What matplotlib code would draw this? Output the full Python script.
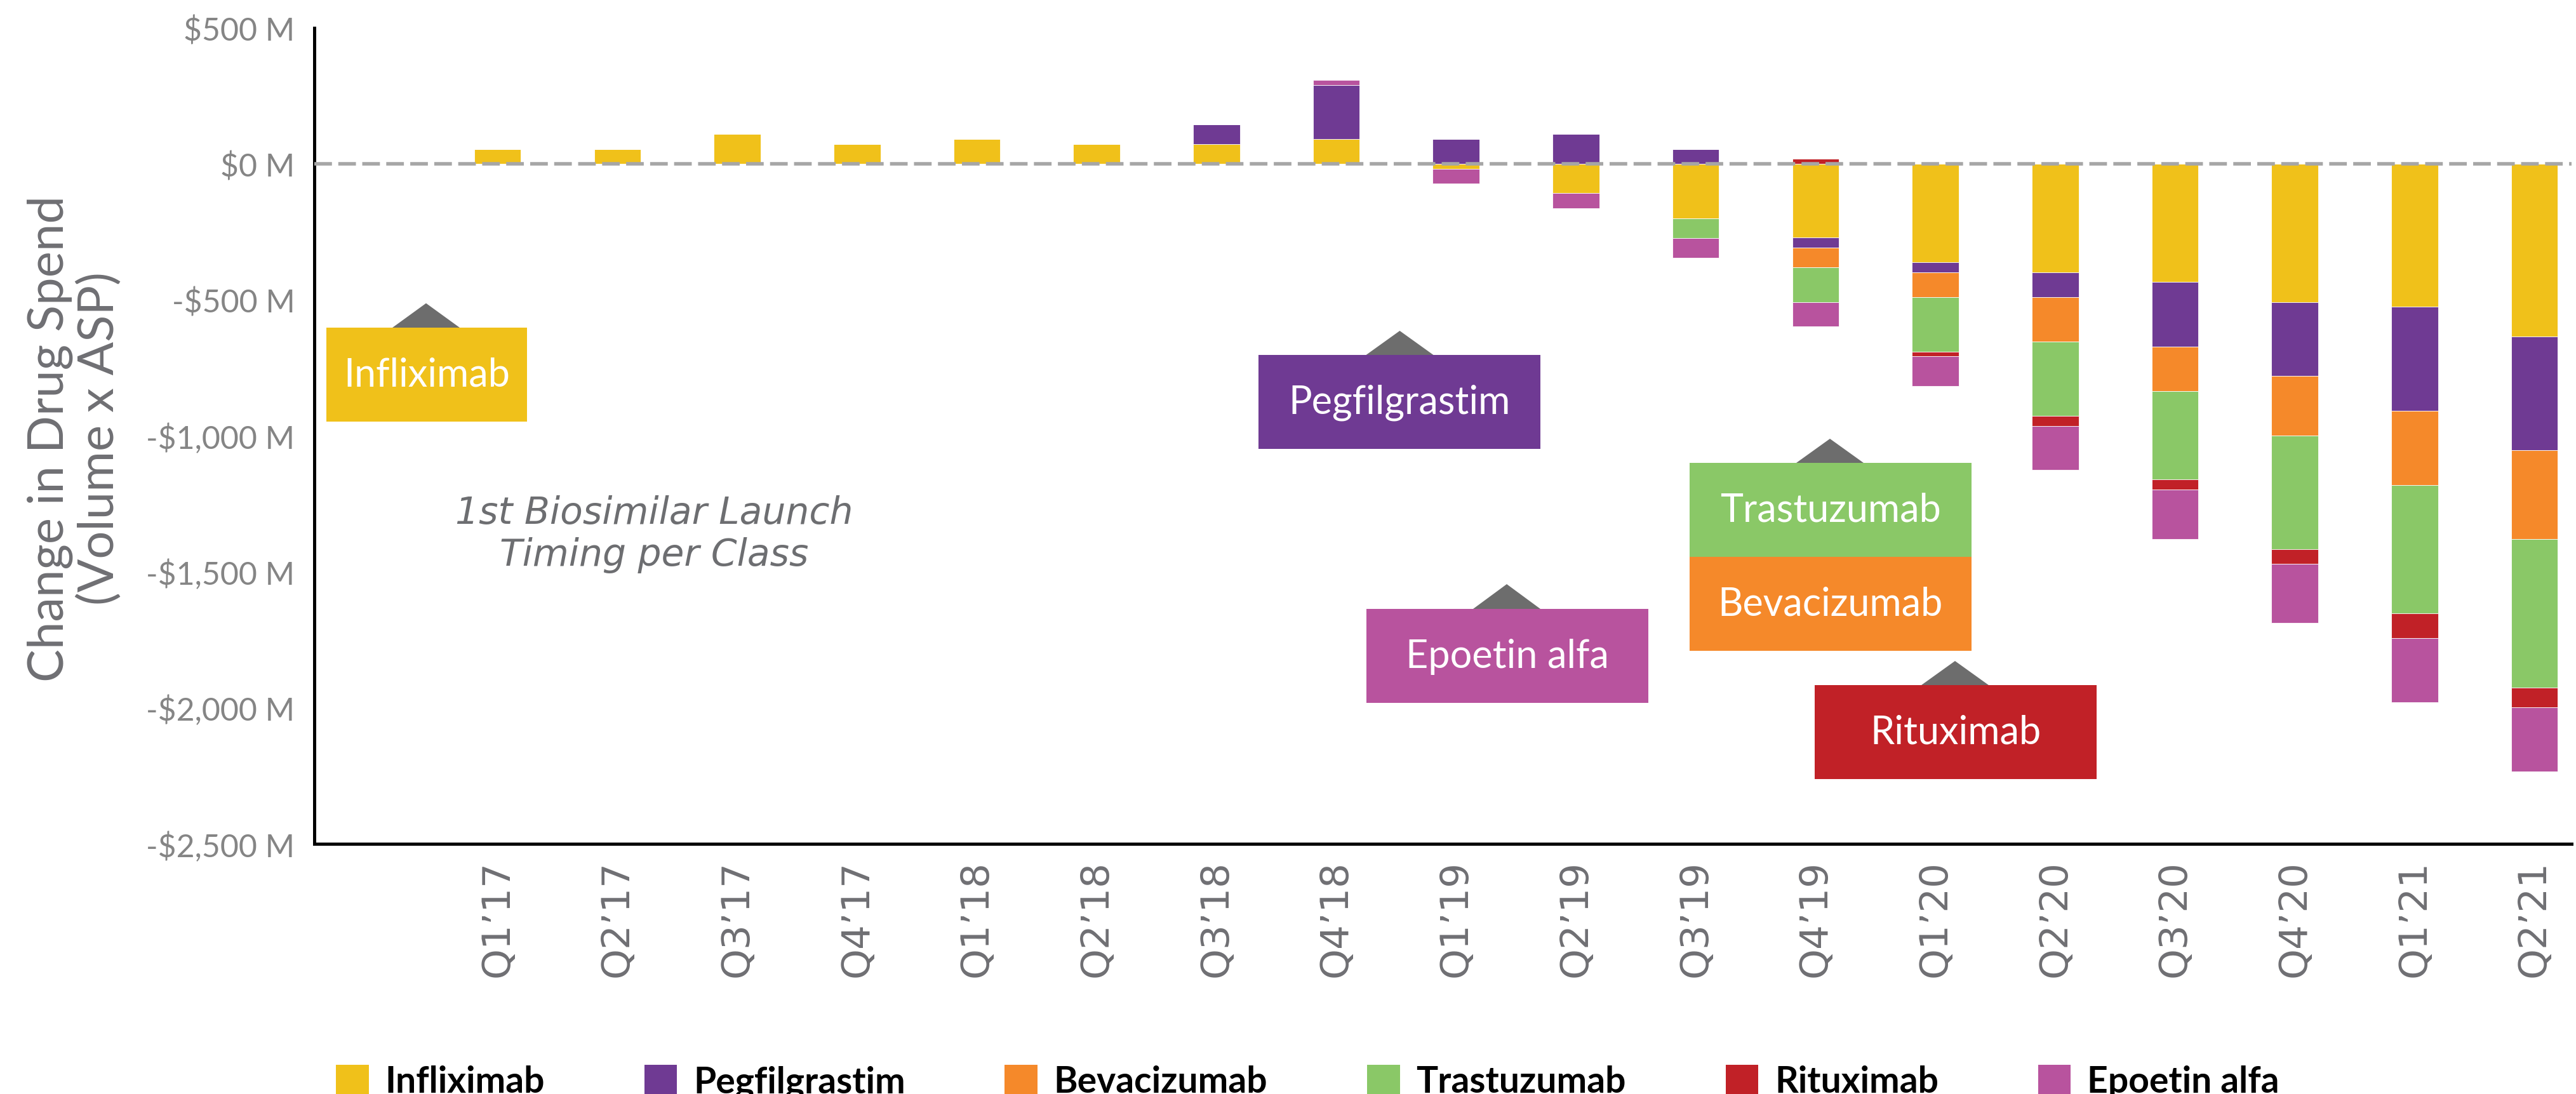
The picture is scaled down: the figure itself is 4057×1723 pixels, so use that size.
import matplotlib
matplotlib.use("Agg")
import matplotlib.pyplot as plt
from matplotlib.patches import Rectangle, Polygon, Patch
import numpy as np

# ---------------- data (values in $M) ----------------
quarters = ["Q1\u201917", "Q2\u201917", "Q3\u201917", "Q4\u201917",
            "Q1\u201918", "Q2\u201918", "Q3\u201918", "Q4\u201918",
            "Q1\u201919", "Q2\u201919", "Q3\u201919", "Q4\u201919",
            "Q1\u201920", "Q2\u201920", "Q3\u201920", "Q4\u201920",
            "Q1\u201921", "Q2\u201921"]
drugs = ["Infliximab", "Pegfilgrastim", "Bevacizumab", "Trastuzumab", "Rituximab", "Epoetin alfa"]
infliximab = [55, 55, 109, 72, 91, 72, 72, 91, -18, -108, -200, -271, -362, -399, -435, -508, -526, -635]
pegfilgrastim = [0, 0, 0, 0, 0, 0, 74, 200, 91, 109, 55, -37, -37, -91, -236, -272, -381, -417]
bevacizumab = [0, 0, 0, 0, 0, 0, 0, 0, 0, 0, 0, -73, -91, -164, -164, -219, -273, -327]
trastuzumab = [0, 0, 0, 0, 0, 0, 0, 0, 0, 0, -72, -127, -200, -272, -326, -417, -473, -546]
rituximab = [0, 0, 0, 0, 0, 0, 0, 0, 0, 0, 0, 19, -18, -37, -37, -54, -90, -73]
epoetin_alfa = [0, 0, 0, 0, 0, 0, 0, 18, -54, -56, -73, -90, -108, -163, -181, -217, -236, -235]
yticks = [500, 0, -500, -1000, -1500, -2000, -2500]
ytick_labels = ["$500 M", "$0 M", "-$500 M", "-$1,000 M", "-$1,500 M", "-$2,000 M", "-$2,500 M"]
colors = ["#F0C11A", "#6F3A93", "#F5892A", "#8AC867", "#C12127", "#B8539E"]
series = [infliximab, pegfilgrastim, bevacizumab, trastuzumab, rituximab, epoetin_alfa]

ylabel_text = "Change in Drug Spend\n(Volume x ASP)"
note_text = "1st Biosimilar Launch\nTiming per Class"

# ---------------- figure ----------------
W, H = 4057, 1724
DPI = 200
fig = plt.figure(figsize=(W / DPI, H / DPI), dpi=DPI)
ax = fig.add_axes([495 / W, 1 - 1330 / H, (4050 - 495) / W, (1330 - 45) / H])

x = np.arange(len(quarters))
pos_base = np.zeros(len(quarters))
neg_base = np.zeros(len(quarters))
for vals, col in zip(series, colors):
    v = np.array(vals, dtype=float)
    pos = np.where(v > 0, v, 0)
    neg = np.where(v < 0, v, 0)
    ax.bar(x, pos, bottom=pos_base, width=0.39, color=col, edgecolor="white", linewidth=0.3, zorder=2)
    ax.bar(x, neg, bottom=neg_base, width=0.39, color=col, edgecolor="white", linewidth=0.3, zorder=2)
    pos_base += pos
    neg_base += neg

ax.axhline(0, color="#A6A6A6", lw=2.0, dashes=(5, 1.8), zorder=3)

ax.set_xlim(-1.53, 17.31)
ax.set_ylim(-2500, 500)
ax.set_yticks(yticks)
ax.set_yticklabels(ytick_labels, fontfamily="Lato", fontsize=18, color="#858585")
ax.set_xticks(x)
ax.set_xticklabels(quarters, rotation=90, fontfamily="DejaVu Sans", fontsize=22, color="#6F6F73")
ax.tick_params(axis="both", length=0)
ax.tick_params(axis="y", pad=11)
ax.tick_params(axis="x", pad=9)
for s in ["top", "right"]:
    ax.spines[s].set_visible(False)
for s in ["left", "bottom"]:
    ax.spines[s].set_linewidth(1.8)
    ax.spines[s].set_color("black")

fig.text(118 / W, 1 - 691 / H, ylabel_text, rotation=90, ha="center", va="center",
         multialignment="center", fontfamily="Lato", fontsize=28, color="#6F6F73", linespacing=1.1)

# ---------------- annotation boxes ----------------
boxes = [
    ("Infliximab", 0, 0.00534, 0.09423, 0.51751, 0.63268, 0.04951, 0.66257),
    ("Pegfilgrastim", 1, 0.41828, 0.54318, 0.48405, 0.59922, 0.48087, 0.62879),
    ("Trastuzumab", 3, 0.60928, 0.73418, 0.35175, 0.46693, 0.67145, 0.49650),
    ("Bevacizumab", 2, 0.60928, 0.73418, 0.23696, 0.35175, None, None),
    ("Epoetin alfa", 5, 0.46610, 0.59100, 0.17276, 0.28794, 0.52827, 0.31829),
    ("Rituximab", 4, 0.66459, 0.78951, 0.07938, 0.19455, 0.72686, 0.22412),
]
hw = 0.0149
for label, ci, x0, x1, y0, y1, ax_, ay_ in boxes:
    ax.add_patch(Rectangle((x0, y0), x1 - x0, y1 - y0, transform=ax.transAxes,
                           facecolor=colors[ci], edgecolor="none", zorder=4, clip_on=False))
    if ax_ is not None:
        ax.add_patch(Polygon([(ax_ - hw, y1), (ax_ + hw, y1), (ax_, ay_)], closed=True,
                             transform=ax.transAxes, facecolor="#6D6D6D", edgecolor="none",
                             zorder=4, clip_on=False))
    ax.text((x0 + x1) / 2, (y0 + y1) / 2, label, transform=ax.transAxes, ha="center", va="center",
            fontfamily="Lato", fontsize=22, color="white", zorder=5)

ax.text(0.15049, 0.38054, note_text, transform=ax.transAxes, ha="center", va="center",
        multialignment="center", fontfamily="DejaVu Sans", fontstyle="italic", fontsize=21,
        color="#6D6E71", linespacing=1.2)

# ---------------- legend ----------------
handles = [Patch(facecolor=c, edgecolor="none", label=d) for c, d in zip(colors, drugs)]
fig.legend(handles=handles, loc="upper center", bbox_to_anchor=(0.5076, 1 - 1678 / H), ncol=6,
           frameon=False, prop={"family": "Lato", "weight": "bold", "size": 20.5},
           handlelength=0.91, handleheight=0.91, handletextpad=0.45, columnspacing=2.75,
           borderpad=0, borderaxespad=0)

fig.savefig("out.png", dpi=DPI)
